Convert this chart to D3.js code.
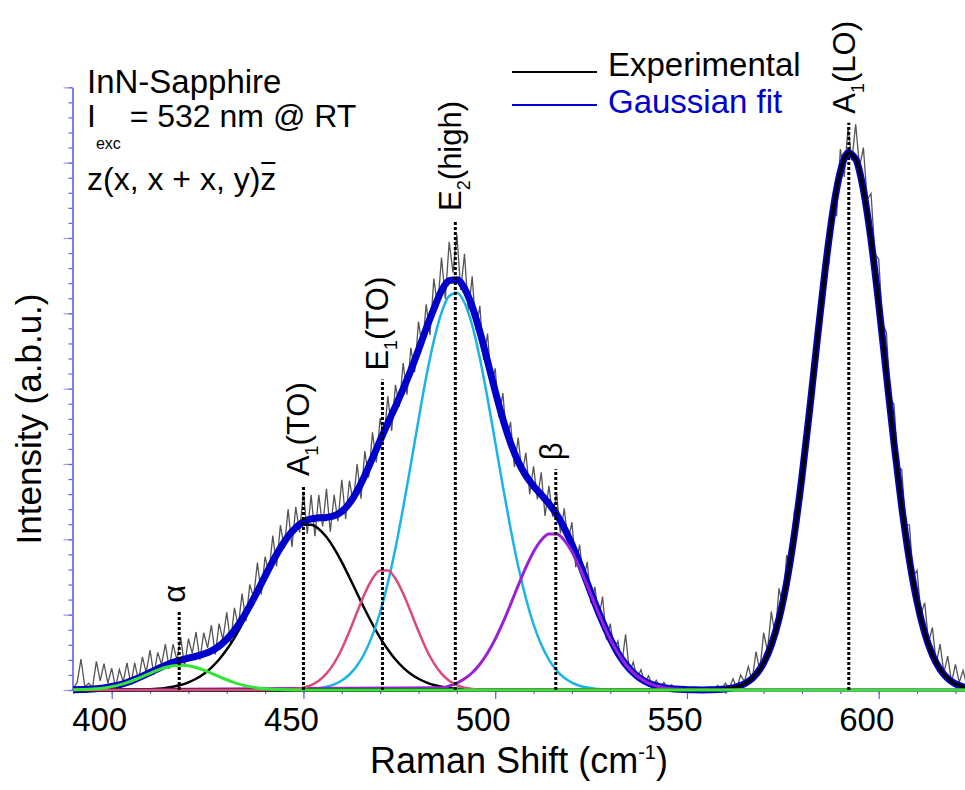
<!DOCTYPE html>
<html>
<head>
<meta charset="utf-8">
<script src="https://cdn.jsdelivr.net/npm/d3@7"></script>
<style>
  body { margin: 0; background: #fff; }
  text { font-family: "Liberation Sans", Arial, sans-serif; }
</style>
</head>
<body>
<svg id="chart" width="965" height="790"></svg>
<script>
// Raman shift grid of the fit curves: 390..626 cm-1, every 2 cm-1
var fitStart = 390;
var fitStep = 2;

// total Gaussian fit (blue)
var fitVals = [0.003,0.005,0.009,0.017,0.028,
  0.046,0.069,0.100,0.139,0.184,0.232,0.281,0.327,0.366,0.397,0.424,0.448,0.477,0.520,0.583,0.673,0.791,0.941,1.116,1.309,1.511,1.707,1.886,2.040,2.154,
  2.232,2.271,2.285,2.291,2.312,2.370,2.479,2.641,2.847,3.078,3.313,3.543,3.767,3.997,4.243,4.514,4.797,5.059,5.302,5.434,5.447,5.330,5.091,4.755,4.365,
  3.968,3.597,3.280,3.031,2.846,2.707,2.591,2.473,2.330,2.150,1.934,1.685,1.420,1.153,0.903,0.680,0.490,0.342,0.229,0.148,0.091,0.054,0.031,0.017,0.009,
  0.005,0.002,0.001,0.003,0.006,0.014,0.029,0.059,0.113,0.206,0.359,0.597,0.945,1.430,2.063,2.837,3.723,4.660,5.563,6.335,6.881,7.129,7.046,6.642,5.972,
  5.122,4.190,3.269,2.433,1.727,1.170,0.755,0.466,0.274,0.153,0.082,0.042,0.020,0.009];

// single Gaussian components (first x, values every 2 cm-1)
var alphaStart = 390;
var alphaVals = [0.003,0.005,0.009,0.017,0.028,0.045,0.068,0.098,0.136,0.178,0.222,0.264,0.299,0.322,0.330,
  0.322,0.299,0.264,0.222,0.178,0.136,0.098,0.068,0.045,0.028,0.017,0.009,0.005,0.003,0.001,0];
var a1toStart = 400;
var a1toVals = [0.001,0.001,0.002,0.003,0.006,0.010,0.017,0.028,0.044,0.067,0.102,0.149,0.213,0.298,0.405,0.537,0.693,0.873,1.071,1.281,1.494,1.698,1.881,2.031,2.138,2.193,
  2.193,2.138,2.031,1.881,1.698,1.494,1.281,1.071,0.873,0.693,0.537,0.405,0.298,0.213,0.149,0.102,0.067,0.044,0.028,0.017,0.010,0.006,0.003,0.002,0.001];
var e1toStart = 446;
var e1toVals = [0.006,0.015,0.032,0.065,0.123,0.217,0.356,0.545,0.779,1.035,1.281,1.477,1.586,
  1.586,1.477,1.281,1.035,0.779,0.545,0.356,0.217,0.123,0.065,0.032,0.015,0.006];
var e2Start = 450;
var e2Vals = [0.007,0.013,0.024,0.043,0.075,0.127,0.206,0.325,0.495,0.728,1.034,1.420,1.885,2.418,2.995,3.586,4.150,4.636,5.010,5.229,5.274,
  5.140,4.841,4.404,3.873,3.292,2.703,2.144,1.643,1.218,0.871,0.603,0.403,0.260,0.162,0.098,0.057,0.032,0.017,0.009,0.005];
var betaStart = 486;
var betaVals = [0.031,0.054,0.091,0.148,0.229,0.342,0.490,0.675,0.894,1.136,1.388,1.628,1.836,1.988,2.070,
  2.070,1.988,1.836,1.628,1.388,1.136,0.894,0.675,0.490,0.342,0.229,0.148,0.091,0.054,0.031,0.017,0.009,0.005];
var a1loStart = 556;
var a1loVals = [0.003,0.006,0.014,0.029,0.059,0.113,0.206,0.359,0.597,0.945,1.430,2.063,2.837,3.723,4.660,5.563,6.335,6.881,7.129,
  7.046,6.642,5.972,5.122,4.190,3.269,2.433,1.727,1.170,0.755,0.466,0.274,0.153,0.082,0.042,0.020,0.009];

// experimental spectrum, 390..625 cm-1 every 1 cm-1
var expStart = 390;
var expVals = [
  0.02,0.10,0.41,0.04,0.09,0.03,0.38,0.12,0.35,0.09,
  0.29,0.03,0.27,0.11,0.36,0.07,0.36,0.12,0.44,0.23,
  0.53,0.20,0.50,0.34,0.61,0.28,0.61,0.40,0.70,0.31,
  0.68,0.49,0.77,0.40,0.76,0.56,0.86,0.47,0.88,0.67,
  1.03,0.63,1.09,0.85,1.28,0.91,1.40,1.23,1.69,1.27,
  1.77,1.55,2.05,1.64,2.19,1.88,2.40,1.90,2.43,2.09,
  2.63,2.07,2.59,2.04,2.59,2.17,2.67,2.10,2.59,2.24,
  2.79,2.27,2.78,2.48,3.00,2.54,3.17,2.82,3.42,3.02,
  3.61,3.33,3.90,3.44,4.05,3.76,4.34,3.92,4.54,4.22,
  4.89,4.54,5.12,4.71,5.46,5.08,5.74,5.19,5.95,5.54,
  6.05,5.31,5.79,5.01,5.49,4.78,5.10,4.38,4.73,4.07,
  4.27,3.62,3.94,3.32,3.56,2.96,3.35,2.86,3.15,2.60,
  2.97,2.53,2.89,2.31,2.71,2.30,2.61,2.08,2.41,1.96,
  2.23,1.63,1.93,1.45,1.70,1.15,1.37,0.95,1.24,0.67,
  0.88,0.53,0.65,0.34,0.74,0.23,0.37,0.15,0.27,0.10,
  0.19,0.05,0.13,0.04,0.10,0.01,0.07,0.01,0.05,0.01,
  0.04,0.00,0.02,0.00,0.03,0.01,0.04,0.00,0.06,0.01,
  0.09,0.02,0.15,0.02,0.20,0.11,0.31,0.12,0.51,0.26,
  0.76,0.52,1.04,0.71,1.35,1.11,1.79,1.61,2.38,2.25,
  3.12,3.04,3.98,3.89,4.88,4.77,5.76,5.65,6.58,6.29,
  7.18,6.81,7.47,7.03,7.51,6.94,7.20,6.51,6.59,5.79,
  5.72,4.86,4.75,3.87,3.79,2.95,2.93,2.20,2.19,1.51,
  1.59,1.00,1.16,0.63,0.83,0.35,0.61,0.23,0.45,0.10,
  0.34,0.10,0.26,0.05,0.20,0.08];

// phonon modes: label parts, position (cm-1), top of the marker line (a.b.u.)
var peakMain = ["\u03b1", "A", "E", "E", "\u03b2", "A"];
var peakSub = ["", "1", "1", "2", "", "1"];
var peakRest = ["", "(TO)", "(TO)", "(high)", "", "(LO)"];
var peakPos = [417.6, 450, 470.6, 489.6, 515.8, 592.2];
var peakTop = [1.04, 2.72, 4.12, 6.24, 2.93, 7.53];

var xTicks = [400, 450, 500, 550, 600];
var xDomain = [389.65, 622.5];
var yDomain = [0, 8];

var svg = d3.select("#chart");
var axisColor = "#5f5fe8";

var x = d3.scaleLinear().domain(xDomain).range([72, 965]);
var y = d3.scaleLinear().domain(yDomain).range([690, 87.3]);

var toPoints = function(start, step, vals, pad) {
  var pts = vals.map(function(v, i) { return [start + i * step, v]; });
  if (pad) {
    if (start > fitStart) pts.unshift([fitStart, 0]);
    pts.push([625, 0]);
  }
  return pts;
};

var smooth = d3.line()
  .x(function(d) { return x(d[0]); })
  .y(function(d) { return y(d[1]); })
  .curve(d3.curveMonotoneX);

var raw = d3.line()
  .x(function(d) { return x(d[0]); })
  .y(function(d) { return y(d[1]); });

// axes
var yMinor = d3.axisLeft(y).tickValues(d3.range(0, 8.001, 0.2)).tickSize(4).tickFormat("").tickSizeOuter(0);
var yMajor = d3.axisLeft(y).tickValues(d3.range(0, 8.001, 1)).tickSize(9).tickFormat("").tickSizeOuter(0);
svg.append("g").attr("transform", "translate(72.5,0)").call(yMinor);
svg.append("g").attr("transform", "translate(72.5,0)").call(yMajor)
  .call(function(g) { g.select(".domain").remove(); })
  .selectAll("line").attr("stroke-opacity", 0.6);

var xMinor = d3.axisBottom(x).tickValues(d3.range(390, 625, 10)).tickSize(4).tickFormat("").tickSizeOuter(0);
var xMajor = d3.axisBottom(x).tickValues(xTicks).tickSize(9).tickFormat("").tickSizeOuter(0);
svg.append("g").attr("transform", "translate(0,690)").call(xMinor);
var gx = svg.append("g").attr("transform", "translate(0,690)").call(xMajor);
gx.select(".domain").remove();

svg.selectAll(".domain").attr("stroke", axisColor).attr("stroke-width", 1.6);
svg.selectAll(".tick line").attr("stroke", axisColor).attr("stroke-width", 1.2);

// tick labels (sit a little left of their ticks, as in the original)
svg.append("g").selectAll("text")
  .data(xTicks)
  .enter()
  .append("text")
  .attr("x", function(d) { return x(d) - 12; })
  .attr("y", 731)
  .attr("text-anchor", "middle")
  .attr("font-size", 33)
  .text(function(d) { return d; });

// curves
svg.append("path")
  .attr("d", raw(toPoints(expStart, 1, expVals, false)))
  .attr("fill", "none").attr("stroke", "#555555").attr("stroke-width", 1.3);

var drawComp = function(start, vals, color, width) {
  svg.append("path")
    .attr("d", smooth(toPoints(start, fitStep, vals, true)))
    .attr("fill", "none").attr("stroke", color).attr("stroke-width", width)
    .attr("stroke-linejoin", "round");
};

drawComp(a1toStart, a1toVals, "#000000", 2.5);
drawComp(fitStart, fitVals, "#0000cc", 7);
drawComp(e2Start, e2Vals, "#1ab4e8", 2.5);
drawComp(betaStart, betaVals, "#9a22d6", 3);
drawComp(a1loStart, a1loVals, "#000000", 3.5);
drawComp(e1toStart, e1toVals, "#dc4a7c", 2.5);
drawComp(alphaStart, alphaVals, "#33e633", 3);

// mode markers
peakPos.forEach(function(p, i) {
  svg.append("line")
    .attr("x1", x(p)).attr("x2", x(p))
    .attr("y1", y(0)).attr("y2", y(peakTop[i]))
    .attr("stroke", "#000").attr("stroke-width", 3)
    .attr("stroke-dasharray", "3,2");

  var lx = x(p) + 6;
  var ly = y(peakTop[i]) - 9;
  var t = svg.append("text")
    .attr("transform", "translate(" + lx + "," + ly + ") rotate(-90)")
    .attr("font-size", 31);
  t.append("tspan").text(peakMain[i]);
  if (peakSub[i]) {
    t.append("tspan").attr("dy", 9).attr("font-size", 18).text(peakSub[i]);
    t.append("tspan").attr("dy", -9).text(peakRest[i]);
  }
});

// sample / geometry note
var note = svg.append("g").attr("font-size", 32);
note.append("text").attr("x", 87).attr("y", 93).attr("font-size", 33).text("InN-Sapphire");
var l2 = note.append("text").attr("x", 87).attr("y", 127);
l2.append("tspan").text("I");
l2.append("tspan").attr("dy", 22).attr("font-size", 16).text("exc");
l2.append("tspan").attr("dy", -22).text(" = 532 nm @ RT");
var l3 = note.append("text").attr("x", 87).attr("y", 190).text("z(x, x + x, y)z");
var n3 = l3.node();
var total = n3.getComputedTextLength();
var zw = n3.getSubStringLength(n3.getNumberOfChars() - 1, 1);
note.append("line")
  .attr("x1", 87 + total - zw + 1).attr("x2", 87 + total - 1)
  .attr("y1", 163).attr("y2", 163)
  .attr("stroke", "#000").attr("stroke-width", 2);

// legend
var legendItems = ["Experimental", "Gaussian fit"];
var legendColors = ["#000000", "#0000cc"];
legendItems.forEach(function(name, i) {
  var ly = 72 + i * 33;
  svg.append("line").attr("x1", 512).attr("x2", 597).attr("y1", ly).attr("y2", ly)
    .attr("stroke", legendColors[i]).attr("stroke-width", 2);
  svg.append("text").attr("x", 608).attr("y", ly + 4 + (i ? 4 : 0))
    .attr("font-size", 33).attr("fill", legendColors[i]).text(name);
});

// axis titles
var xt = svg.append("text").attr("x", 519).attr("y", 773)
  .attr("text-anchor", "middle").attr("font-size", 36);
xt.append("tspan").text("Raman Shift (cm");
xt.append("tspan").attr("dy", -14).attr("font-size", 20).text("-1");
xt.append("tspan").attr("dy", 14).text(")");

svg.append("text")
  .attr("transform", "translate(41,419) rotate(-90)")
  .attr("text-anchor", "middle").attr("font-size", 35)
  .text("Intensity (a.b.u.)");
</script>
</body>
</html>
